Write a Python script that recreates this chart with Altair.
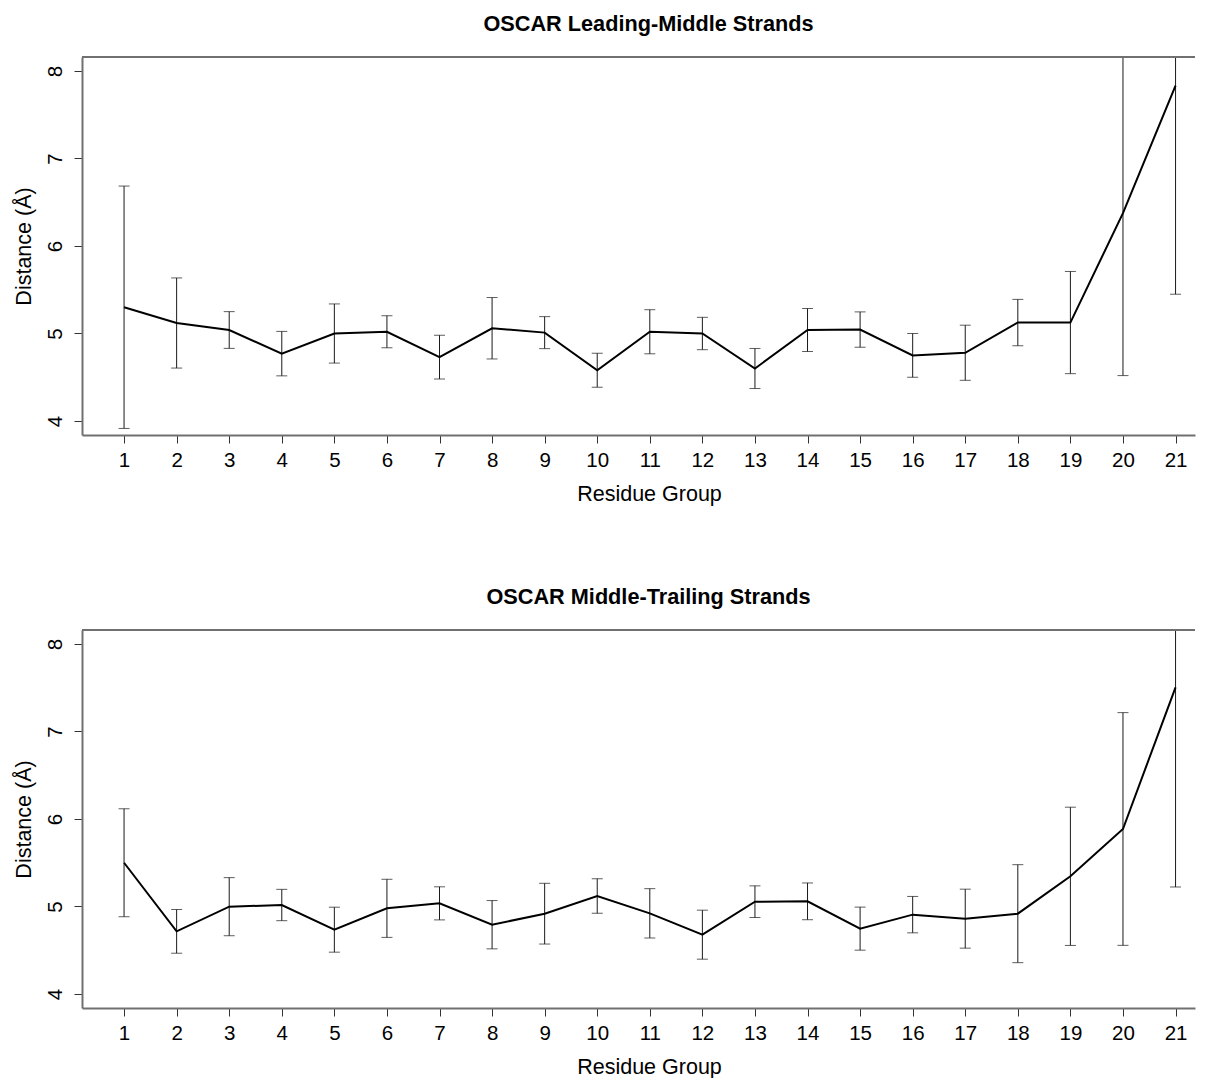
import altair as alt
import pandas as pd

# ---- data ----
groups = [1, 2, 3, 4, 5, 6, 7, 8, 9, 10, 11, 12, 13, 14, 15, 16, 17, 18, 19, 20, 21]

lm_mean = [5.30, 5.12, 5.04, 4.77, 5.00, 5.02, 4.73, 5.06, 5.01, 4.58, 5.02,
           5.00, 4.60, 5.04, 5.045, 4.75, 4.78, 5.125, 5.125, 6.376, 7.832]
lm_sd = [1.385, 0.515, 0.21, 0.254, 0.338, 0.183, 0.25, 0.351, 0.183, 0.193, 0.252,
         0.185, 0.229, 0.246, 0.202, 0.25, 0.315, 0.265, 0.584, 1.857, 2.383]

mt_mean = [5.50, 4.716, 4.998, 5.017, 4.735, 4.979, 5.036, 4.792, 4.918, 5.12, 4.922,
           4.678, 5.055, 5.059, 4.747, 4.907, 4.861, 4.918, 5.345, 5.886, 7.505]
mt_sd = [0.617, 0.25, 0.332, 0.179, 0.257, 0.332, 0.189, 0.276, 0.347, 0.198, 0.282,
         0.28, 0.181, 0.21, 0.246, 0.208, 0.337, 0.56, 0.79, 1.33, 2.282]

titles = ["OSCAR Leading-Middle Strands", "OSCAR Middle-Trailing Strands"]
y_ticks = [4, 5, 6, 7, 8]
x_title = "Residue Group"
y_title = "Distance (Å)"

FONT = "Liberation Sans"
W = 1113
H = 378
XDOM = [0.2, 21.37]
YDOM = [3.84, 8.16]
FRAME = "#707070"
BAR = "#1a1a1a"


def panel(title, mean, sd):
    df = pd.DataFrame({"group": groups, "mean": mean, "sd": sd})
    base = alt.Chart(df).transform_calculate(
        lo="datum.mean - datum.sd", hi="datum.mean + datum.sd"
    )
    xscale = alt.Scale(domain=XDOM, nice=False, zero=False)
    yscale = alt.Scale(domain=YDOM, nice=False, zero=False)
    xaxis = alt.Axis(
        values=groups, tickSize=8, tickColor="#333", tickWidth=1,
        domainColor=FRAME, domainWidth=2,
        labelPadding=23.5, labelBaseline="alphabetic", labelFlush=False,
        labelOverlap=False, grid=False,
        titleX=567, titleY=65.5, titleBaseline="alphabetic", titleAlign="center",
    )
    yaxis = alt.Axis(
        values=y_ticks, tickSize=8, tickColor="#333", tickWidth=1,
        domainColor=FRAME, domainWidth=2, format="d",
        labelAngle=270, labelAlign="center", labelBaseline="alphabetic",
        labelPadding=13, grid=False,
        titleAngle=270, titleX=-51.5, titleY=H / 2, titleBaseline="alphabetic",
        titleAlign="center",
    )
    x = alt.X("group:Q", scale=xscale, axis=xaxis, title=x_title)
    line = base.mark_line(color="black", strokeWidth=2).encode(
        x=x, y=alt.Y("mean:Q", scale=yscale, axis=yaxis, title=y_title)
    )
    bars = base.mark_rule(color=BAR, strokeWidth=1, clip=True).encode(
        x=x, y=alt.Y("lo:Q", scale=yscale, axis=yaxis, title=y_title), y2="hi:Q"
    )
    cap_lo = base.mark_tick(orient="horizontal", size=11, thickness=1,
                            color=BAR, clip=True).encode(
        x=x, y=alt.Y("lo:Q", scale=yscale, axis=yaxis, title=y_title)
    )
    cap_hi = base.mark_tick(orient="horizontal", size=11, thickness=1,
                            color=BAR, clip=True).encode(
        x=x, y=alt.Y("hi:Q", scale=yscale, axis=yaxis, title=y_title)
    )
    top_line = alt.Chart(df).mark_rule(color=FRAME, strokeWidth=2).encode(
        x=alt.value(0), x2=alt.value(W), y=alt.value(0)
    )
    return alt.layer(bars, cap_lo, cap_hi, line, top_line).properties(
        width=W, height=H,
        title=alt.TitleParams(
            text=title, anchor="middle", frame="group", fontSize=21.7,
            fontWeight="bold", font=FONT, color="black",
            baseline="alphabetic", offset=3, dx=10,
        ),
    )


chart = alt.vconcat(
    panel(titles[0], lm_mean, lm_sd),
    panel(titles[1], mt_mean, mt_sd),
    spacing=82,
).properties(
    padding={"left": 5, "top": 6, "right": 0, "bottom": 0},
    background="white",
).configure_view(stroke=None).configure_axis(
    labelFont=FONT, titleFont=FONT, labelFontSize=20.5, titleFontSize=21.5,
    labelColor="black", titleColor="black", titleFontWeight="normal",
)

chart.save("out.html", embed_options={"renderer": "svg", "actions": False})
